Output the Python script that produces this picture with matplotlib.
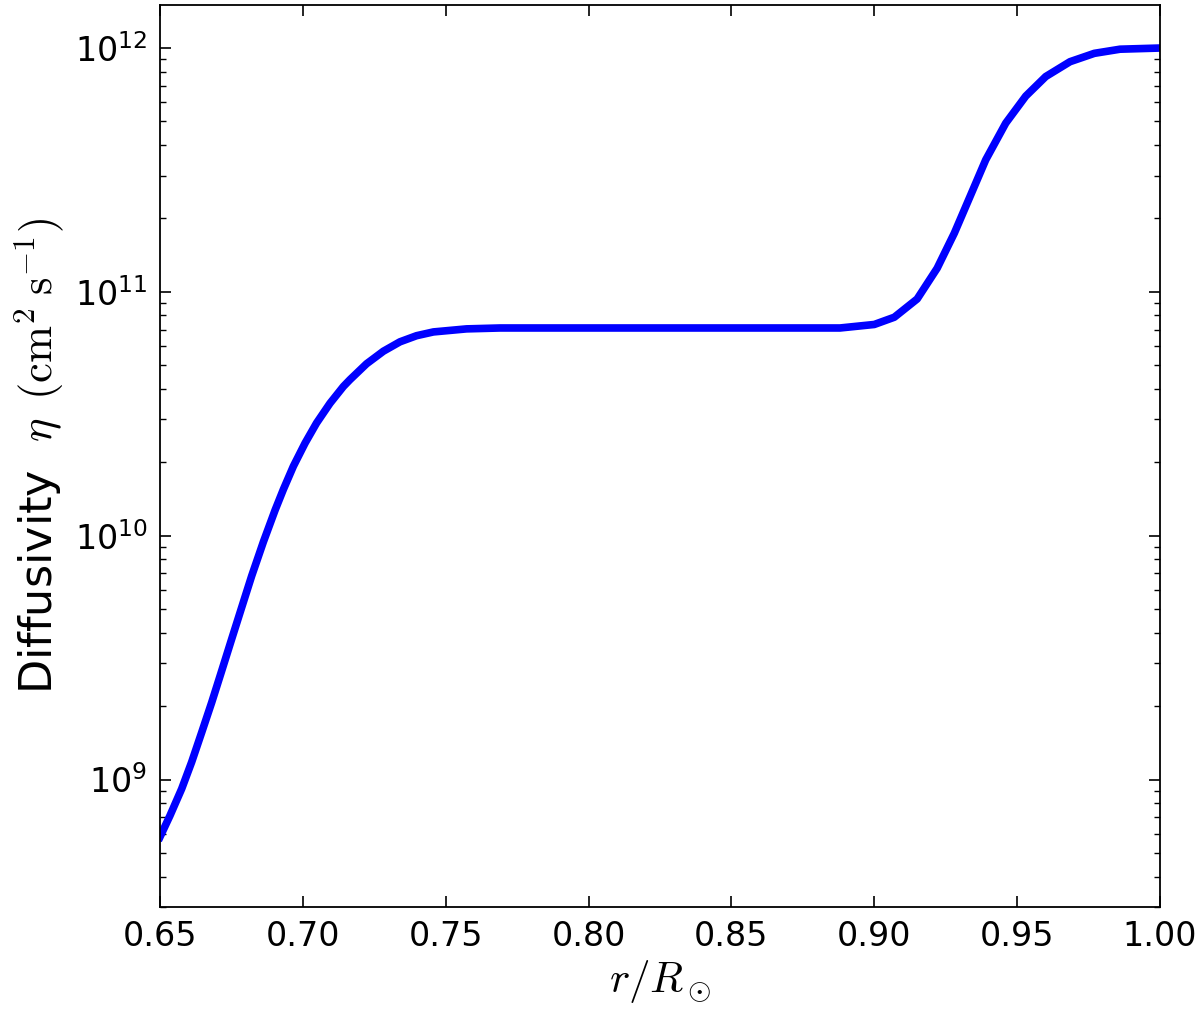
import numpy as np
import matplotlib
matplotlib.use('Agg')
import matplotlib.pyplot as plt

# radius (r / R_sun) and diffusivity eta (cm^2 s^-1)
radius = [0.650, 0.6535, 0.6576, 0.6611, 0.6646, 0.6681, 0.6716, 0.6751, 0.6786,
          0.6821, 0.6862, 0.6903, 0.6932, 0.6967, 0.7008, 0.7048, 0.7095, 0.7142,
          0.7165, 0.7223, 0.7282, 0.734, 0.7398, 0.7457, 0.7573, 0.769, 0.800,
          0.850, 0.888, 0.900, 0.907, 0.915, 0.922, 0.928, 0.9335, 0.939,
          0.946, 0.953, 0.960, 0.9685, 0.977, 0.986, 1.000]
eta = [5.81e8, 7.11e8, 9.16e8, 1.18e9, 1.56e9, 2.07e9, 2.79e9, 3.77e9, 5.08e9,
       6.84e9, 9.44e9, 1.274e10, 1.549e10, 1.928e10, 2.399e10, 2.897e10, 3.491e10, 4.093e10,
       4.365e10, 5.07e10, 5.71e10, 6.24e10, 6.61e10, 6.85e10, 7.05e10, 7.11e10, 7.11e10,
       7.11e10, 7.11e10, 7.35e10, 7.87e10, 9.35e10, 1.25e11, 1.74e11, 2.46e11, 3.48e11,
       4.92e11, 6.35e11, 7.64e11, 8.79e11, 9.51e11, 9.89e11, 1.00e12]

xticks = [0.65, 0.70, 0.75, 0.80, 0.85, 0.90, 0.95, 1.00]

plt.rcParams['mathtext.fontset'] = 'cm'

fig = plt.figure(figsize=(12, 10.18), dpi=100)
ax = fig.add_axes([0.1333, 0.109, 0.8334, 0.886])

ax.plot(radius, eta, color='#0000ff', linewidth=5.5)
ax.set_yscale('log')
ax.set_xlim(0.65, 1.00)
ax.set_ylim(3e8, 1.5e12)
ax.set_xticks(xticks)
ax.set_xticklabels(['%.2f' % t for t in xticks])

ax.tick_params(which='both', direction='in', top=True, right=True, labelsize=24)
ax.tick_params(which='major', length=8, width=1.2, pad=9)
ax.tick_params(which='minor', length=4, width=1.0)
for s in ax.spines.values():
    s.set_linewidth(1.3)

ax.set_xlabel(r'$r/R_\odot$', fontsize=31, labelpad=4)
ax.set_ylabel(r'Diffusivity  $\eta\ \,(\mathrm{cm}^2\;\mathrm{s}^{-1})$', fontsize=32, labelpad=6)

fig.savefig('out.png', dpi=100)
